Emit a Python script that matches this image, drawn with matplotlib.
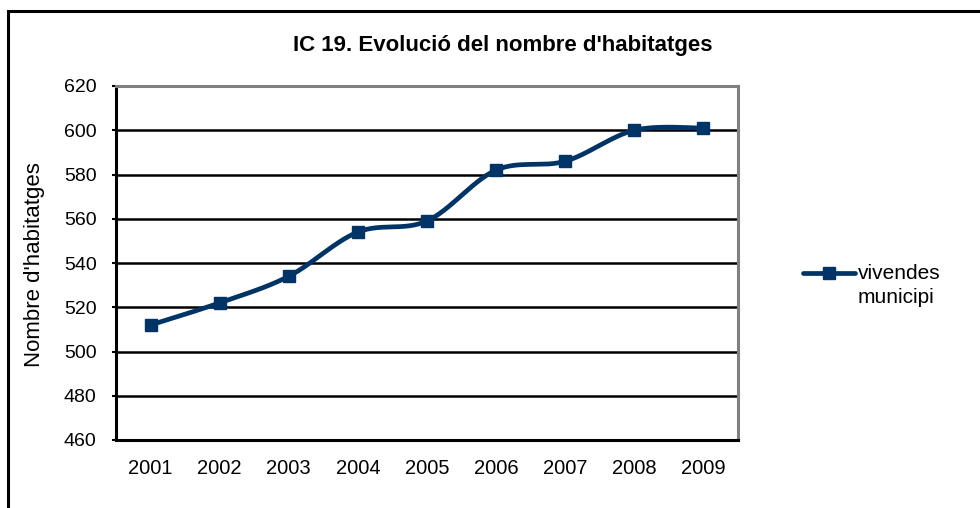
import matplotlib
matplotlib.use("Agg")
import matplotlib.pyplot as plt
import numpy as np
from matplotlib.patches import Rectangle
from matplotlib.lines import Line2D

plt.rcParams['font.family'] = ['Liberation Sans', 'DejaVu Sans']

years = ['2001', '2002', '2003', '2004', '2005', '2006', '2007', '2008', '2009']
values = [512, 522, 534, 554, 559, 582, 586, 600, 601]
y_ticks = [460, 480, 500, 520, 540, 560, 580, 600, 620]
title = "IC 19. Evolució del nombre d'habitatges"
ylabel = "Nombre d'habitatges"
series_lines = ["vivendes", "municipi"]
line_color = '#003366'


def catmull_rom(xs, ys, n=30, tension=0.5):
    xs = np.asarray(xs, float)
    ys = np.asarray(ys, float)
    px = np.concatenate([[xs[0]], xs, [xs[-1]]])
    py = np.concatenate([[ys[0]], ys, [ys[-1]]])
    outx, outy = [], []
    t = np.linspace(0, 1, n)
    for i in range(1, len(px) - 2):
        p0x, p1x, p2x, p3x = px[i-1], px[i], px[i+1], px[i+2]
        p0y, p1y, p2y, p3y = py[i-1], py[i], py[i+1], py[i+2]
        c1x = p1x + (p2x - p0x) * tension / 3
        c1y = p1y + (p2y - p0y) * tension / 3
        c2x = p2x - (p3x - p1x) * tension / 3
        c2y = p2y - (p3y - p1y) * tension / 3
        bx = (1-t)**3*p1x + 3*(1-t)**2*t*c1x + 3*(1-t)*t**2*c2x + t**3*p2x
        by = (1-t)**3*p1y + 3*(1-t)**2*t*c1y + 3*(1-t)*t**2*c2y + t**3*p2y
        outx.extend(bx); outy.extend(by)
    return np.array(outx), np.array(outy)


fig = plt.figure(figsize=(9.8, 5.08), dpi=100)
W, H = 980, 508
# outer frame
fig.patches.append(Rectangle((8/W, -0.05), 1.2, (H-11)/H + 0.05, transform=fig.transFigure,
                             fill=False, edgecolor='black', linewidth=2.2))

ax = fig.add_axes([116/W, 1-440/H, (738-116)/W, (440-86)/H])
x = np.arange(len(years))
sx, sy = catmull_rom(x, values, tension=0.5)
ax.plot(sx, sy, color=line_color, linewidth=3.4, solid_capstyle='round', zorder=3)
ax.plot(x, values, linestyle='none', marker='s', markersize=8, color=line_color, zorder=4)

ax.set_xlim(-0.5, len(years) - 0.5)
ax.set_ylim(460, 620)
ax.set_yticks(y_ticks)
ax.set_xticks(x)
ax.set_xticklabels(years)
for v in y_ticks[1:-1]:
    ax.axhline(v, color='black', linewidth=1.8, zorder=1)

ax.spines['left'].set_color('black')
ax.spines['left'].set_linewidth(2.2)
ax.spines['bottom'].set_color('black')
ax.spines['bottom'].set_linewidth(2.2)
ax.spines['top'].set_color('#808080')
ax.spines['top'].set_linewidth(2.2)
ax.spines['right'].set_color('#808080')
ax.spines['right'].set_linewidth(2.2)

ax.tick_params(axis='y', length=3, width=1.5, labelsize=14, pad=11, direction='out')
ax.tick_params(axis='x', length=0, labelsize=14.5, pad=14)

fig.text(503/W, 1-45/H, title, ha='center', va='center', fontsize=16, fontweight='bold')
fig.text(35/W, 1-265/H, ylabel, ha='center', va='center', rotation=90, fontsize=16)

# legend (manual, handle aligned with first text line)
ly = 1 - 273/H
fig.add_artist(Line2D([803/W, 855/W], [ly, ly], transform=fig.transFigure,
                      color=line_color, linewidth=3.4, solid_capstyle='round'))
fig.add_artist(Line2D([829/W], [ly], transform=fig.transFigure, color=line_color,
                      marker='s', markersize=8, linestyle='none'))
for i, line in enumerate(series_lines):
    fig.text(858/W, 1 - (279 + 24 * i)/H, line, ha='left', va='baseline', fontsize=15)

fig.savefig('out.png', dpi=100)
